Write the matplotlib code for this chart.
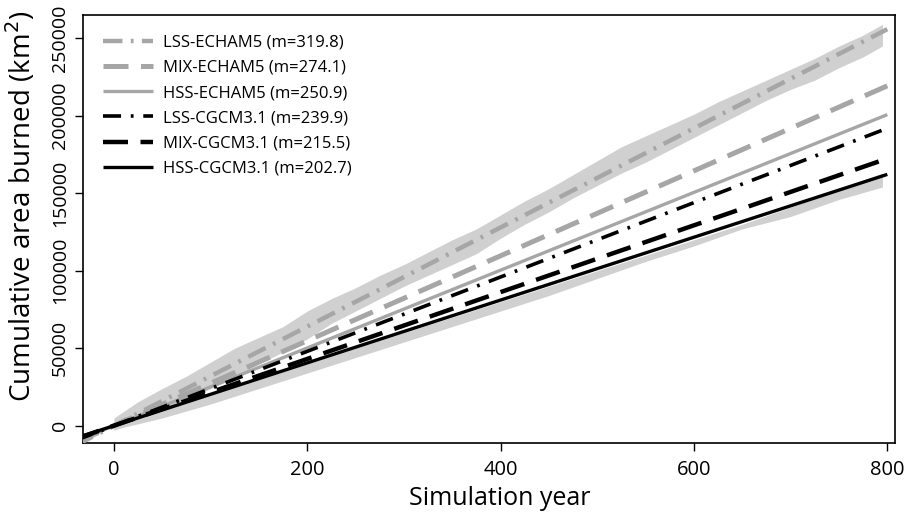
import numpy as np
import matplotlib
matplotlib.use("Agg")
import matplotlib.pyplot as plt

plt.rcParams['font.family'] = ['Open Sans', 'DejaVu Sans']
plt.rcParams['lines.scale_dashes'] = False

# fitted slopes (km2 per year) for each scenario
labels = ['LSS-ECHAM5', 'MIX-ECHAM5', 'HSS-ECHAM5',
          'LSS-CGCM3.1', 'MIX-CGCM3.1', 'HSS-CGCM3.1']
slopes = [319.8, 274.1, 250.9, 239.9, 215.5, 202.7]

# simulated cumulative area envelope
band_years = [0, 25, 50, 75, 100, 125, 150, 175, 200, 225, 250, 275, 300, 325,
              350, 375, 400, 425, 450, 475, 500, 525, 550, 575, 600, 625, 650,
              675, 700, 725, 750, 775, 795]
lss_upper = [5000, 15500, 24000, 32000, 41000, 50000, 57000, 64000, 74000, 82000,
             89000, 97000, 104000, 112000, 120000, 127000, 136000, 145000, 153000,
             162000, 171000, 180000, 187000, 194000, 201000, 209000, 216000,
             223000, 230000, 237000, 245000, 252000, 259000]
lss_lower = [-3000, 3500, 10000, 17000, 24000, 31000, 40000, 47500, 56000, 66000,
             74000, 82000, 90000, 97000, 104000, 111000, 121000, 130000, 138000,
             147000, 155000, 163000, 170000, 178000, 186000, 194000, 202000,
             210000, 217000, 223000, 231000, 238000, 245000]

hss_years = [0, 50, 100, 150, 200, 250, 300, 350, 400, 450, 500, 550, 600, 650,
             700, 750, 795]
hss_upper = [1500, 10500, 20500, 30000, 40000, 50000, 60000, 70000, 80000, 90000,
             100000, 110000, 120000, 130000, 141000, 153000, 163000]
hss_lower = [-2500, 5000, 14000, 24000, 34000, 44000, 54000, 64000, 74000, 84000,
             95000, 106000, 116000, 127000, 135000, 146000, 154000]

colors = ['#a6a6a6', '#a6a6a6', '#a6a6a6', 'black', 'black', 'black']
widths = [3.2, 3.6, 2.4, 2.6, 3.2, 2.4]
dashes = [(14, 6, 2, 6), (18, 9), None, (13, 7, 2, 7), (18, 9), None]

fig = plt.figure(figsize=(9.05, 5.17), dpi=100)
ax = fig.add_axes([0.0917, 0.143, 0.8973, 0.828])

ax.fill_between(band_years, lss_lower, lss_upper, color='#d0d0d0', lw=0, zorder=1)
ax.fill_between(hss_years, hss_lower, hss_upper, color='#d0d0d0', lw=0, zorder=1)

xs = np.array([-40, 800])
for lab, m, c, w, d in zip(labels, slopes, colors, widths, dashes):
    line, = ax.plot(xs, m * xs, color=c, lw=w, label='%s (m=%.1f)' % (lab, m),
                    solid_capstyle='butt', dash_capstyle='butt', zorder=3)
    if d is not None:
        line.set_dashes(d)

ax.set_xlim(-32, 808)
ax.set_ylim(-11200, 265000)
ax.set_xticks([0, 200, 400, 600, 800])
ax.set_xticklabels(['0', '200', '400', '600', '800'], fontsize=14.5)
ax.set_yticks([0, 50000, 100000, 150000, 200000, 250000])
ax.set_yticklabels(['0', '50000', '100000', '150000', '200000', '250000'],
                   rotation=90, va='center', fontsize=14)
ax.tick_params(axis='x', length=6, width=1, pad=6)
ax.tick_params(axis='y', length=6, width=1, pad=4)
for s in ax.spines.values():
    s.set_linewidth(1.2)

ax.set_xlabel('Simulation year', fontsize=18)
ax.set_ylabel('Cumulative area burned (km$^2$)', fontsize=20)
ax.xaxis.set_label_coords(0.5135, -0.1)
ax.yaxis.set_label_coords(-0.055, 0.554)

leg = ax.legend(loc='upper left', frameon=False, fontsize=12, handlelength=3.0,
                labelspacing=0.55, handletextpad=0.6, borderaxespad=0.3,
                bbox_to_anchor=(0.01, 0.981))

fig.savefig('out.png', dpi=100)
